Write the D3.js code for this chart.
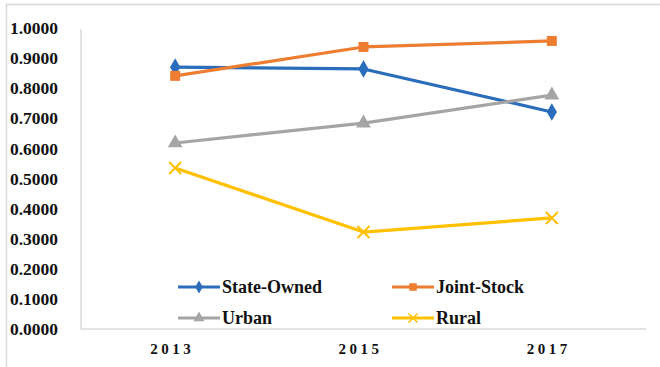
<!DOCTYPE html>
<html><head><meta charset="utf-8">
<script src="https://cdn.jsdelivr.net/npm/d3@7"></script>
<style>body{margin:0;background:#fff}svg{display:block}</style>
</head><body>
<svg id="c" width="660" height="367"></svg>
<script>
const categories = ["2013", "2015", "2017"];
const stateOwned = [0.870, 0.864, 0.721];
const jointStock = [0.841, 0.937, 0.957];
const urban = [0.618, 0.684, 0.777];
const rural = [0.535, 0.322, 0.369];
const yTicks = [0, 0.1, 0.2, 0.3, 0.4, 0.5, 0.6, 0.7, 0.8, 0.9, 1.0];
const seriesNames = ["State-Owned", "Joint-Stock", "Urban", "Rural"];
const seriesColors = ["#2A6EBB", "#ED7D31", "#A5A5A5", "#FFC000"];
const seriesMarkers = ["diamond", "square", "triangle", "cross"];

const series = seriesNames.map((n, i) => ({
  name: n, color: seriesColors[i], marker: seriesMarkers[i],
  values: [stateOwned, jointStock, urban, rural][i]
}));

const svg = d3.select("#c");
const font = "'Liberation Serif','Times New Roman',serif";

// outer frame
svg.append("path").attr("d", "M6.5,370 V4.5 H665").attr("fill", "none")
  .attr("stroke", "#D9D9D9").attr("stroke-width", 1.5);

const x = d3.scalePoint().domain(categories).range([81, 646]).padding(0.5);
const y = d3.scaleLinear().domain([0, 1]).range([329, 28]);

// y axis line
svg.append("line").attr("x1", 81).attr("x2", 81).attr("y1", y(0.995)).attr("y2", y(0))
  .attr("stroke", "#D9D9D9").attr("stroke-width", 1.5);
// x axis line
svg.append("line").attr("x1", 81).attr("x2", 646).attr("y1", y(0)).attr("y2", y(0))
  .attr("stroke", "#D9D9D9").attr("stroke-width", 1.5);

// y tick labels
svg.append("g").selectAll("text").data(yTicks).join("text")
  .attr("x", 58).attr("y", d => y(d)).attr("dy", "0.35em")
  .attr("text-anchor", "end").attr("font-family", font).attr("font-weight", "bold")
  .attr("font-size", 17.5).attr("fill", "#111")
  .text(d => d.toFixed(4));

// x tick labels
svg.append("g").selectAll("text").data(categories).join("text")
  .attr("x", d => x(d) - 3).attr("y", 349).attr("dy", "0.35em")
  .attr("text-anchor", "middle").attr("font-family", font).attr("font-weight", "bold")
  .attr("font-size", 15).attr("letter-spacing", 3.5).attr("fill", "#111")
  .text(d => d);

function markerPath(type) {
  if (type === "diamond") return d3.symbol(d3.symbolDiamond, 90)();
  if (type === "square") return d3.symbol(d3.symbolSquare, 100)();
  if (type === "triangle") return d3.symbol(d3.symbolTriangle, 95)();
  return "M-6,-6L6,6M-6,6L6,-6";
}
function drawMarker(g, type, color) {
  const p = g.append("path").attr("d", markerPath(type));
  if (type === "cross") p.attr("fill", "none").attr("stroke", color).attr("stroke-width", 2);
  else p.attr("fill", color);
}

const line = d3.line().x((d, i) => x(categories[i])).y(d => y(d));
const plot = svg.append("g");
series.forEach(s => {
  plot.append("path").datum(s.values).attr("d", line)
    .attr("fill", "none").attr("stroke", s.color).attr("stroke-width", 3.2)
    .attr("stroke-linejoin", "round");
});
series.forEach(s => {
  s.values.forEach((v, i) => {
    const g = plot.append("g").attr("transform", `translate(${x(categories[i])},${y(v)})`);
    drawMarker(g, s.marker, s.color);
  });
});

// legend
const legPos = [[178, 287], [392, 287], [178, 318], [392, 318]];
series.forEach((s, i) => {
  const [lx, ly] = legPos[i];
  const g = svg.append("g");
  g.append("line").attr("x1", lx).attr("x2", lx + 42).attr("y1", ly).attr("y2", ly)
    .attr("stroke", s.color).attr("stroke-width", 3.2);
  const m = g.append("g").attr("transform", `translate(${lx + 21},${ly}) scale(0.75)`);
  drawMarker(m, s.marker, s.color);
  g.append("text").attr("x", lx + 44).attr("y", ly).attr("dy", "0.35em")
    .attr("font-family", font).attr("font-weight", "bold").attr("font-size", 18)
    .attr("fill", "#111").text(s.name);
});
</script>
</body></html>
